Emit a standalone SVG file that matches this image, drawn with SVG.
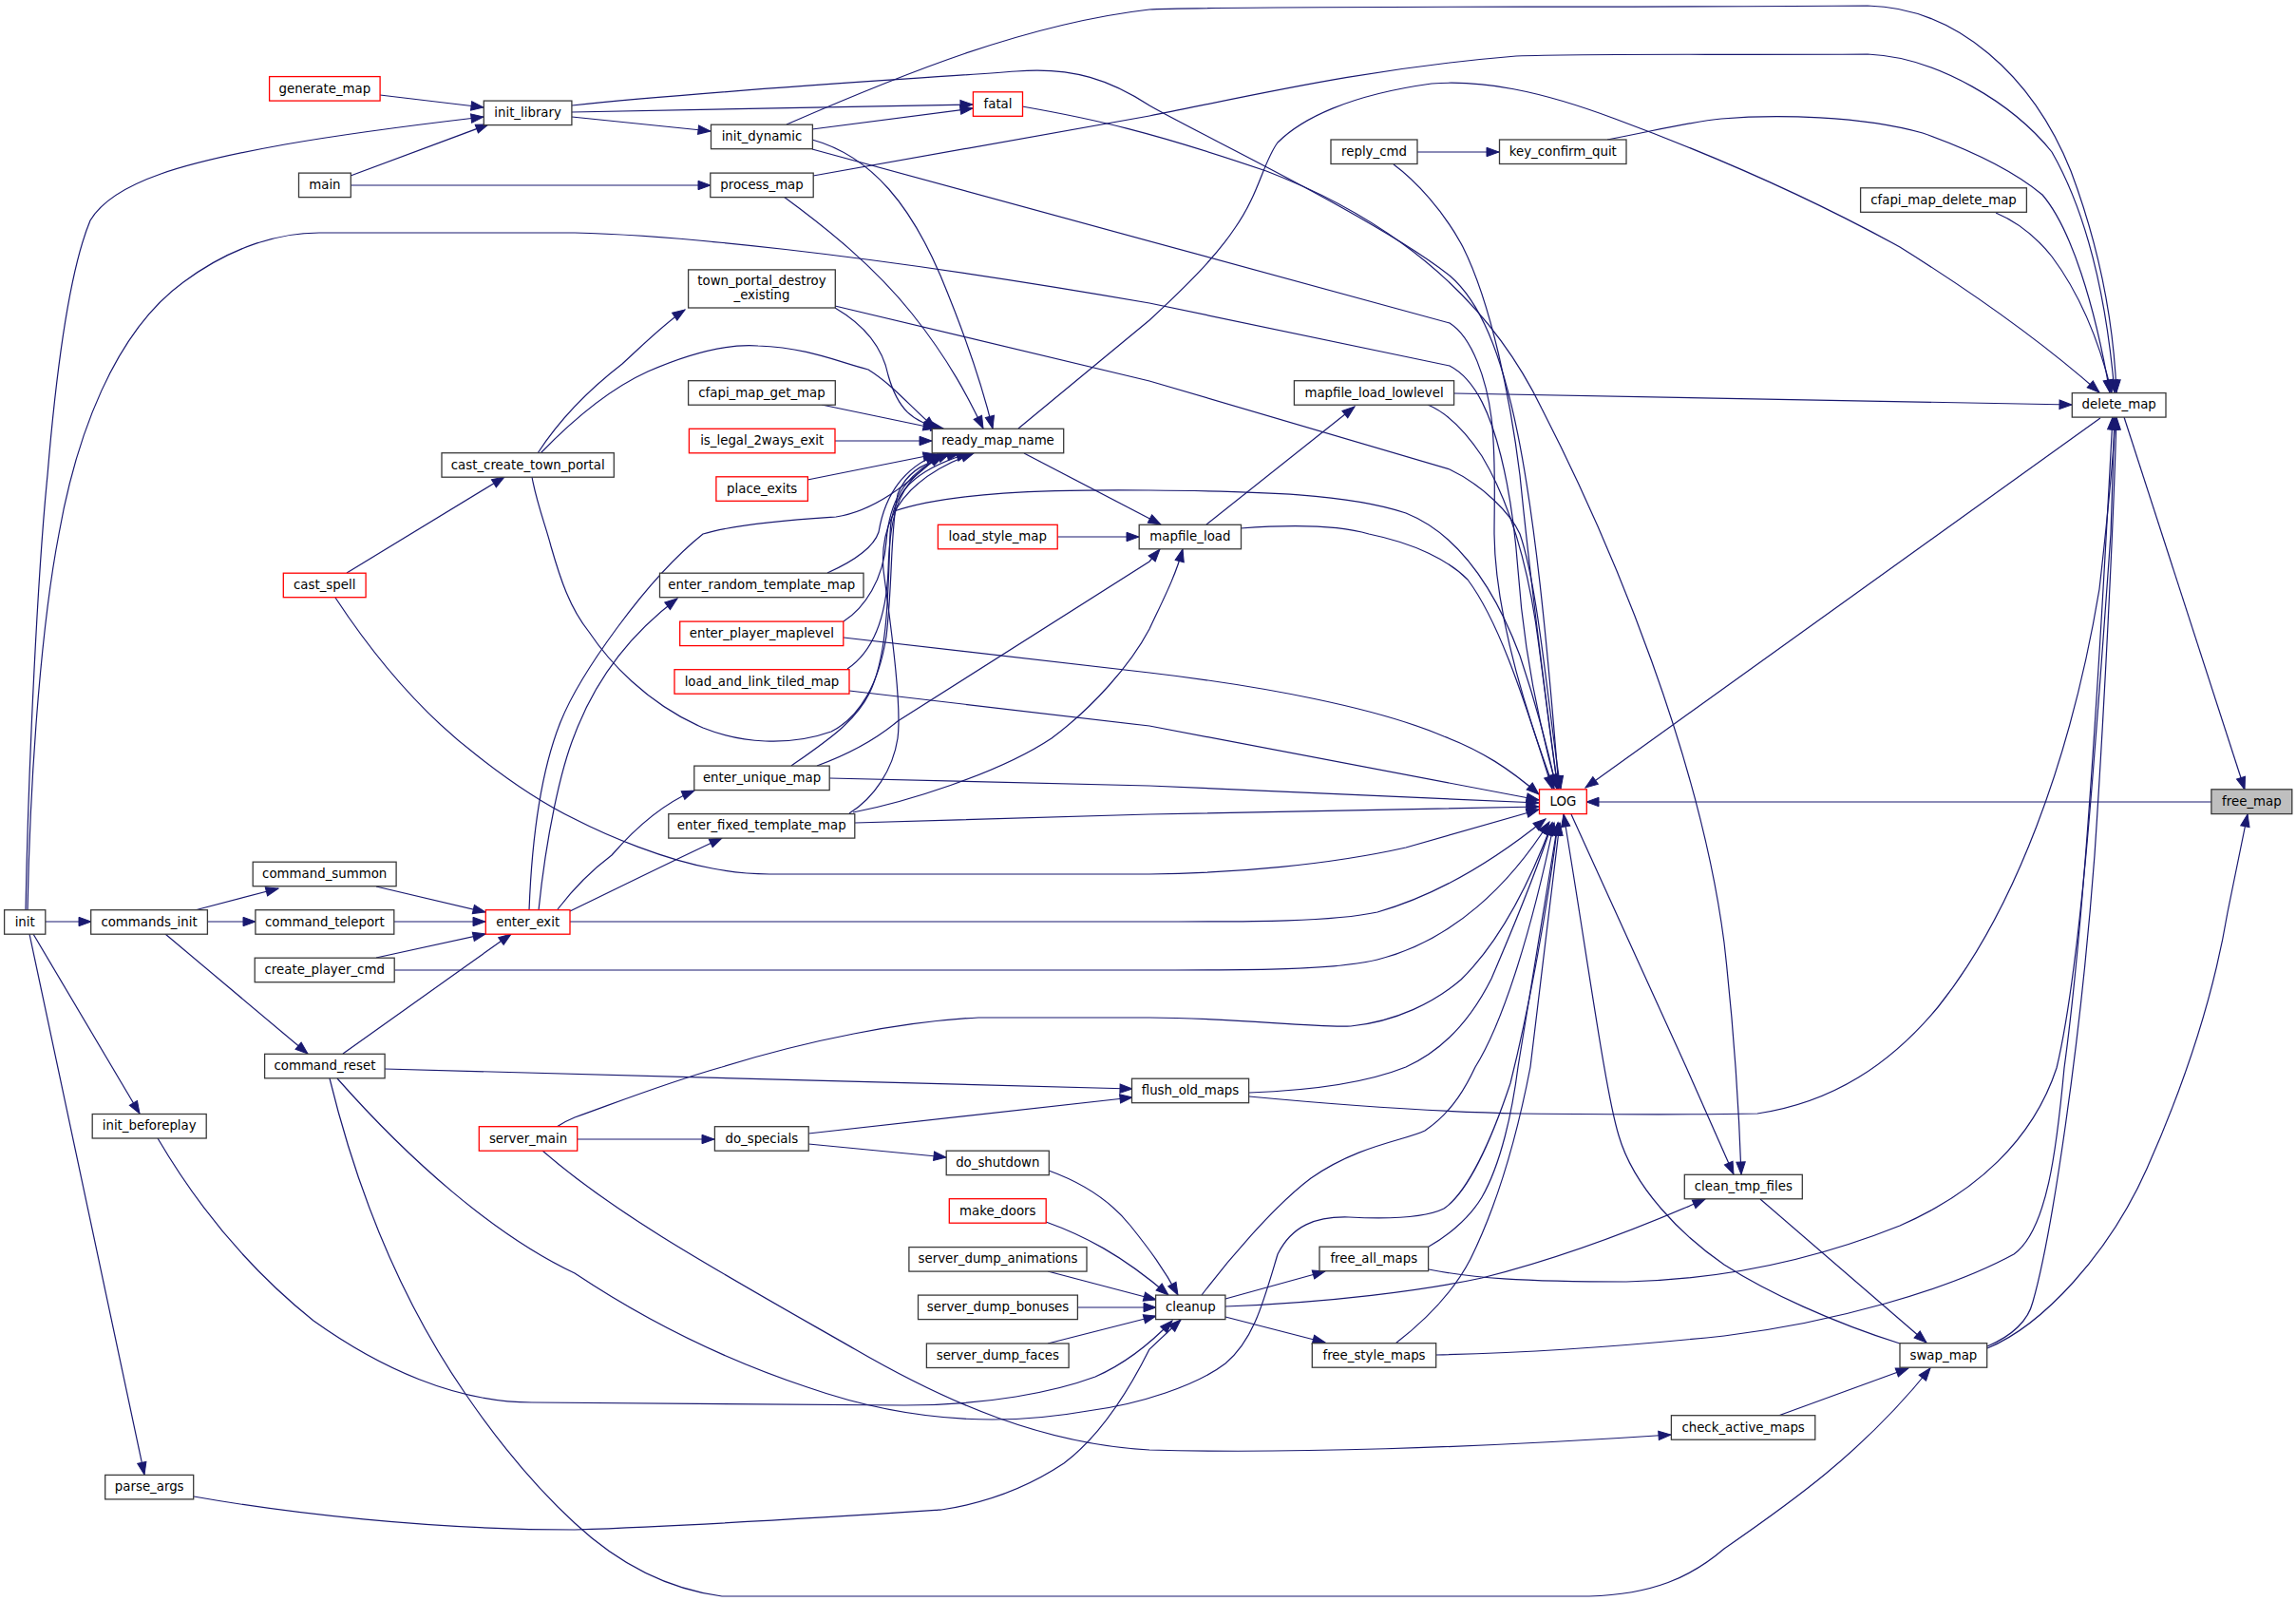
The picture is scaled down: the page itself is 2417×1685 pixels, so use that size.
<svg xmlns="http://www.w3.org/2000/svg" width="2417" height="1685" viewBox="0 0 2417 1685">
<style>
.e{fill:none;stroke:#191970;stroke-width:1.2;marker-end:url(#ah)}
.n rect{fill:#ffffff;stroke:#3a3a3a;stroke-width:1.3}
.n.r rect{stroke:#ff0000}
.n.g rect{fill:#bfbfbf;stroke:#3a3a3a}
.n text{font-family:"DejaVu Sans","Liberation Sans",sans-serif;font-size:13.33px;text-anchor:middle;fill:#000000}
</style>
<defs>
<marker id="ah" viewBox="0 -5 13 10" refX="13" refY="0" markerWidth="13" markerHeight="10" markerUnits="userSpaceOnUse" orient="auto" overflow="visible">
<path d="M0,-4.7 L13,0 L0,4.7 Z" fill="#191970" stroke="#191970" stroke-width="1"/>
</marker>
</defs>
<rect x="0" y="0" width="2417" height="1685" fill="#ffffff"/>
<g id="edges">
<path class="e" d="M400,100 L509,113"/>
<path class="e" d="M27,958 C30,800 40,600 50,500 C60,380 75,280 95,232 C120,190 200,170 300,152 C380,138 450,130 509,123"/>
<path class="e" d="M369,185 L514,131"/>
<path class="e" d="M369,195 L748,195"/>
<path class="e" d="M602,123 L748,138"/>
<path class="e" d="M602,118 L1024,110"/>
<path class="e" d="M855,136 L1024,114"/>
<path class="e" d="M602,111 C750,95 950,84 1070,75 C1130,70 1170,85 1210,111 C1260,140 1450,230 1526,290 C1590,345 1615,500 1641,830"/>
<path class="e" d="M1076,112 C1150,125 1210,138 1333,180 C1450,225 1560,300 1623,430 C1700,580 1790,800 1815,992 C1825,1080 1830,1150 1833,1236"/>
<path class="e" d="M828,131 C950,78 1080,25 1210,10 C1260,6 1700,8 1966,6 C2060,8 2140,80 2180,180 C2210,260 2225,340 2228,413"/>
<path class="e" d="M855,147 C920,165 960,220 990,290 C1015,350 1035,410 1045,451"/>
<path class="e" d="M855,157 L1526,340 C1550,355 1565,400 1570,440 C1575,480 1573,530 1573,562 C1574,650 1610,760 1636,830"/>
<path class="e" d="M29,958 C32,800 45,650 62,562 C80,460 120,350 193,297 C240,262 290,245 336,245 L605,245 C700,247 900,265 1210,319 L1526,385 C1555,400 1570,440 1580,480 C1590,520 1595,560 1598,600 C1605,700 1625,780 1639,830"/>
<path class="e" d="M879,324 C915,345 930,370 935,395 C945,430 960,445 993,451"/>
<path class="e" d="M879,322 L1210,401 L1526,494 C1560,510 1590,540 1600,562 C1620,620 1630,750 1643,830"/>
<path class="e" d="M566,477 C590,440 620,410 655,383 C680,360 700,340 721,326"/>
<path class="e" d="M569,477 C600,445 640,410 682,391 C730,370 770,362 798,364 C850,366 880,380 914,389 C940,405 960,430 985,451"/>
<path class="e" d="M560,502 C565,530 575,555 580,575 C590,610 600,640 620,665 C640,695 680,740 740,766 C780,782 830,786 875,770 C905,755 925,720 933,670 C940,610 937,560 945,520 C955,495 975,485 1010,477"/>
<path class="e" d="M865,426 L985,451"/>
<path class="e" d="M879,464 L981,464"/>
<path class="e" d="M850,505 L985,478"/>
<path class="e" d="M365,603 L531,502"/>
<path class="e" d="M353,629 C380,670 430,740 502,795 C540,825 570,845 605,862 C640,880 700,905 750,914 C770,918 790,920 810,920 L1210,920 C1300,919 1400,910 1480,892 L1620,852"/>
<path class="e" d="M557,958 C560,880 570,810 590,760 C610,710 680,610 740,562 C780,550 850,546 880,544 C920,538 955,510 990,478"/>
<path class="e" d="M941,538 C1000,518 1100,515 1210,516 C1330,517 1420,520 1480,540 C1530,560 1570,610 1600,690 C1620,750 1632,800 1638,828"/>
<path class="e" d="M567,958 C575,880 590,810 605,773 C625,720 660,670 713,630"/>
<path class="e" d="M587,957 C600,940 620,918 644,900 C670,870 700,845 731,832"/>
<path class="e" d="M600,959 C660,930 710,905 760,882"/>
<path class="e" d="M600,970 L1210,970 C1300,970 1400,971 1450,960 C1520,940 1580,900 1627,862"/>
<path class="e" d="M396,1008 L511,983"/>
<path class="e" d="M415,1021 L1210,1021 C1300,1021 1400,1022 1450,1010 C1530,990 1590,930 1631,865"/>
<path class="e" d="M396,933 L511,960"/>
<path class="e" d="M415,970 L511,970"/>
<path class="e" d="M361,1109 L538,983"/>
<path class="e" d="M48,970 L96,970"/>
<path class="e" d="M205,958 L293,935"/>
<path class="e" d="M218,970 L269,970"/>
<path class="e" d="M174,983 L324,1109"/>
<path class="e" d="M35,983 L147,1172"/>
<path class="e" d="M31,983 L152,1552"/>
<path class="e" d="M871,603 C900,590 920,575 925,560 C930,530 945,495 987,478"/>
<path class="e" d="M888,654 C910,640 930,610 933,570 C936,530 950,500 995,478"/>
<path class="e" d="M888,671 L1210,708 C1330,722 1450,745 1520,775 C1560,790 1590,810 1620,836"/>
<path class="e" d="M892,704 C920,685 933,650 935,600 C937,540 945,500 1000,477"/>
<path class="e" d="M894,727 L1210,764 L1620,842"/>
<path class="e" d="M833,806 C870,780 900,760 915,730 C935,690 935,620 937,562 C938,520 960,495 1020,477"/>
<path class="e" d="M860,806 C890,795 920,780 945,759 L1210,591 L1221,578"/>
<path class="e" d="M873,819 L1210,827 L1620,845"/>
<path class="e" d="M894,856 C920,840 940,810 945,777 C950,740 935,640 930,600 C925,540 960,500 1025,477"/>
<path class="e" d="M898,855 C950,845 1050,815 1107,777 C1150,745 1190,700 1210,662 C1225,630 1238,605 1245,578"/>
<path class="e" d="M900,866 L1210,857 L1620,849"/>
<path class="e" d="M1078,477 L1222,552"/>
<path class="e" d="M1072,451 L1210,337 C1250,300 1280,270 1300,240 C1325,205 1330,170 1345,150 C1370,125 1420,100 1507,88 C1560,84 1620,95 1700,125 C1800,162 1900,205 2000,260 C2080,310 2150,360 2210,413"/>
<path class="e" d="M825,207 C870,240 920,280 960,330 C1000,380 1020,420 1035,451"/>
<path class="e" d="M856,185 L1210,122 C1330,98 1440,72 1596,59 C1680,56 1800,58 1966,57 C2040,60 2120,110 2160,160 C2200,230 2218,320 2226,413"/>
<path class="e" d="M1113,565 L1199,565"/>
<path class="e" d="M1270,552 L1426,428"/>
<path class="e" d="M1306,556 C1360,552 1410,553 1441,562 C1490,572 1525,590 1545,610 C1575,650 1600,720 1634,830"/>
<path class="e" d="M1531,414 L2181,426"/>
<path class="e" d="M1503,426 C1520,433 1540,450 1560,480 C1590,530 1610,600 1620,680 C1628,740 1634,790 1640,830"/>
<path class="e" d="M1492,160 L1578,160"/>
<path class="e" d="M1467,173 C1490,190 1520,222 1540,260 C1570,320 1590,420 1600,500 C1610,600 1625,720 1640,830"/>
<path class="e" d="M1692,147 C1740,138 1780,128 1812,125 C1870,120 1960,122 2024,140 C2080,160 2120,180 2150,205 C2180,240 2205,320 2221,413"/>
<path class="e" d="M2101,224 C2120,232 2140,245 2160,270 C2190,310 2210,360 2223,413"/>
<path class="e" d="M2236,439 L2363,831"/>
<path class="e" d="M2211,440 L1669,829"/>
<path class="e" d="M2328,844 L1670,844"/>
<path class="e" d="M2092,1419 C2150,1395 2220,1320 2260,1230 C2300,1140 2330,1050 2345,960 L2366,857"/>
<path class="e" d="M2092,1417 C2120,1405 2135,1390 2140,1370 C2160,1300 2190,1100 2205,900 C2215,750 2225,550 2228,439"/>
<path class="e" d="M1504,1336 C1550,1345 1600,1349 1712,1349 C1800,1347 1900,1330 2000,1290 C2080,1255 2140,1200 2165,1124 C2190,1020 2205,800 2222,562 L2226,439"/>
<path class="e" d="M1512,1426 C1600,1424 1700,1418 1815,1406 C1930,1392 2050,1358 2120,1320 C2155,1295 2165,1210 2173,1124 C2190,1000 2205,800 2224,439"/>
<path class="e" d="M1315,1154 C1400,1162 1500,1170 1600,1172 C1700,1173 1800,1173 1850,1172 C1930,1160 1990,1120 2040,1060 C2120,960 2180,800 2210,620 C2218,550 2224,490 2227,439"/>
<path class="e" d="M1315,1150 C1400,1147 1450,1135 1480,1123 C1520,1105 1550,1070 1570,1030 C1600,960 1620,910 1634,866"/>
<path class="e" d="M1504,1312 C1520,1303 1545,1285 1560,1260 C1580,1225 1592,1170 1598,1123 L1640,866"/>
<path class="e" d="M1469,1414 C1500,1390 1530,1360 1548,1325 C1580,1260 1600,1180 1611,1123 L1642,866"/>
<path class="e" d="M1265,1363 C1290,1330 1340,1270 1380,1240 C1430,1205 1480,1200 1500,1190 C1530,1170 1545,1140 1553,1123 C1580,1080 1610,990 1636,866"/>
<path class="e" d="M355,1135 C430,1220 520,1300 605,1340 C680,1390 760,1430 850,1460 C950,1495 1050,1502 1145,1485 C1200,1478 1260,1458 1290,1435 C1320,1410 1330,1370 1345,1320 C1360,1290 1385,1280 1420,1281 C1460,1283 1500,1282 1520,1272 C1545,1255 1570,1200 1590,1140 C1610,1060 1630,950 1640,866"/>
<path class="e" d="M347,1135 C380,1270 430,1380 490,1467 C540,1540 580,1580 605,1603 C650,1645 700,1672 760,1680 L1673,1680 C1740,1678 1780,1660 1815,1630 C1880,1585 1960,1530 2032,1440"/>
<path class="e" d="M608,1199 L752,1199"/>
<path class="e" d="M586,1186 C595,1180 600,1178 605,1176 C650,1160 700,1140 760,1123 C850,1095 950,1075 1030,1071 L1210,1071 C1300,1071 1380,1082 1422,1080 C1470,1075 1510,1055 1538,1031 C1580,990 1610,930 1634,866"/>
<path class="e" d="M571,1211 C650,1280 760,1340 900,1420 C1000,1478 1100,1520 1210,1526 C1350,1530 1550,1524 1759,1510"/>
<path class="e" d="M851,1193 L1192,1155"/>
<path class="e" d="M851,1204 L996,1218"/>
<path class="e" d="M405,1125 L1192,1146"/>
<path class="e" d="M1104,1232 C1140,1245 1170,1265 1190,1290 C1210,1315 1225,1335 1240,1363"/>
<path class="e" d="M1101,1286 C1140,1300 1180,1320 1230,1363"/>
<path class="e" d="M1103,1338 L1217,1368"/>
<path class="e" d="M1134,1376 L1217,1376"/>
<path class="e" d="M1103,1414 L1217,1385"/>
<path class="e" d="M166,1198 C220,1290 280,1350 330,1390 C400,1440 480,1476 560,1476 L952,1479 C1040,1479 1110,1465 1153,1449 C1185,1435 1210,1415 1234,1390"/>
<path class="e" d="M204,1575 C300,1592 450,1610 605,1610 C750,1605 900,1595 991,1589 C1050,1580 1090,1560 1120,1540 C1160,1510 1190,1460 1210,1420 L1243,1389"/>
<path class="e" d="M1290,1367 L1395,1338"/>
<path class="e" d="M1290,1386 L1395,1413"/>
<path class="e" d="M1290,1375 C1400,1371 1500,1358 1560,1345 C1640,1325 1720,1295 1795,1262"/>
<path class="e" d="M1853,1262 L2028,1413"/>
<path class="e" d="M1654,857 L1775,1123 L1825,1236"/>
<path class="e" d="M2000,1414 C1930,1392 1860,1360 1815,1331 C1770,1300 1720,1250 1704,1195 C1690,1150 1670,1000 1646,857"/>
<path class="e" d="M1872,1490 L2009,1440"/>
</g>
<g id="generate_map" class="n r"><rect x="283.6" y="80.6" width="116.5" height="25.5"/><text x="341.9" y="97.6">generate_map</text></g>
<g id="init_library" class="n"><rect x="509.3" y="106.1" width="92.6" height="25.5"/><text x="555.6" y="122.9">init_library</text></g>
<g id="main" class="n"><rect x="314.5" y="182.1" width="54.8" height="25.5"/><text x="341.9" y="198.9">main</text></g>
<g id="init_dynamic" class="n"><rect x="748.5" y="131.2" width="106.9" height="25.5"/><text x="802" y="148">init_dynamic</text></g>
<g id="process_map" class="n"><rect x="747.8" y="182.1" width="108.4" height="25.5"/><text x="802" y="198.9">process_map</text></g>
<g id="fatal" class="n r"><rect x="1024.4" y="96.8" width="52.1" height="25.5"/><text x="1050.5" y="113.6">fatal</text></g>
<g id="town_portal_destroy_existing" class="n"><rect x="724.6" y="283.9" width="154.7" height="40.1"/><text x="802" y="299.5">town_portal_destroy</text><text x="802" y="314.5">_existing</text></g>
<g id="cfapi_map_get_map" class="n"><rect x="724.6" y="400.7" width="154.7" height="25.5"/><text x="802" y="417.5">cfapi_map_get_map</text></g>
<g id="is_legal_2ways_exit" class="n r"><rect x="725.4" y="451.3" width="153.6" height="25.5"/><text x="802.2" y="468">is_legal_2ways_exit</text></g>
<g id="place_exits" class="n r"><rect x="753.9" y="501.8" width="96.5" height="25.5"/><text x="802.2" y="518.6">place_exits</text></g>
<g id="ready_map_name" class="n"><rect x="981.2" y="451.3" width="138.5" height="25.5"/><text x="1050.5" y="468">ready_map_name</text></g>
<g id="cast_create_town_portal" class="n"><rect x="465" y="476.7" width="181.3" height="25.5"/><text x="555.7" y="493.5">cast_create_town_portal</text></g>
<g id="load_style_map" class="n r"><rect x="987.4" y="552.3" width="125.8" height="25.5"/><text x="1050.3" y="569">load_style_map</text></g>
<g id="mapfile_load" class="n"><rect x="1199.2" y="552.3" width="107.3" height="25.5"/><text x="1252.9" y="569">mapfile_load</text></g>
<g id="mapfile_load_lowlevel" class="n"><rect x="1362.4" y="400.7" width="168.2" height="25.5"/><text x="1446.5" y="417.5">mapfile_load_lowlevel</text></g>
<g id="reply_cmd" class="n"><rect x="1401" y="147" width="91" height="25.5"/><text x="1446.5" y="163.8">reply_cmd</text></g>
<g id="key_confirm_quit" class="n"><rect x="1578.5" y="147" width="133.5" height="25.5"/><text x="1645.3" y="163.8">key_confirm_quit</text></g>
<g id="cfapi_map_delete_map" class="n"><rect x="1958.6" y="197.8" width="174.8" height="25.5"/><text x="2046" y="214.6">cfapi_map_delete_map</text></g>
<g id="delete_map" class="n"><rect x="2181.3" y="413.6" width="98.7" height="25.5"/><text x="2230.7" y="430.4">delete_map</text></g>
<g id="cast_spell" class="n r"><rect x="298.3" y="603.2" width="86.8" height="25.5"/><text x="341.7" y="620">cast_spell</text></g>
<g id="enter_random_template_map" class="n"><rect x="694.5" y="603.2" width="214.5" height="25.5"/><text x="801.8" y="620">enter_random_template_map</text></g>
<g id="enter_player_maplevel" class="n r"><rect x="715.7" y="654.1" width="172.1" height="25.5"/><text x="801.8" y="670.9">enter_player_maplevel</text></g>
<g id="load_and_link_tiled_map" class="n r"><rect x="710" y="704.7" width="184" height="25.5"/><text x="802" y="721.5">load_and_link_tiled_map</text></g>
<g id="enter_unique_map" class="n"><rect x="730.8" y="806.1" width="142.4" height="25.5"/><text x="802" y="822.9">enter_unique_map</text></g>
<g id="enter_fixed_template_map" class="n"><rect x="703.8" y="856.6" width="196" height="25.5"/><text x="801.8" y="873.4">enter_fixed_template_map</text></g>
<g id="LOG" class="n r"><rect x="1620.5" y="830.8" width="49.8" height="25.8"/><text x="1645.4" y="847.8">LOG</text></g>
<g id="free_map" class="n g"><rect x="2327.9" y="830.8" width="84.9" height="25.8"/><text x="2370.4" y="847.8">free_map</text></g>
<g id="command_summon" class="n"><rect x="266.2" y="907.2" width="150.9" height="25.5"/><text x="341.7" y="924">command_summon</text></g>
<g id="init" class="n"><rect x="4.6" y="957.7" width="43.2" height="25.5"/><text x="26.2" y="974.5">init</text></g>
<g id="commands_init" class="n"><rect x="95.7" y="957.7" width="122.7" height="25.5"/><text x="157" y="974.5">commands_init</text></g>
<g id="command_teleport" class="n"><rect x="268.9" y="957.7" width="145.9" height="25.5"/><text x="341.9" y="974.5">command_teleport</text></g>
<g id="enter_exit" class="n r"><rect x="511.3" y="957.7" width="88.7" height="25.5"/><text x="555.7" y="974.5">enter_exit</text></g>
<g id="create_player_cmd" class="n"><rect x="268.2" y="1008.2" width="147" height="25.5"/><text x="341.7" y="1025">create_player_cmd</text></g>
<g id="command_reset" class="n"><rect x="278.6" y="1109.3" width="126.5" height="25.5"/><text x="341.9" y="1126.1">command_reset</text></g>
<g id="flush_old_maps" class="n"><rect x="1191.5" y="1135.2" width="123.1" height="25.5"/><text x="1253" y="1152">flush_old_maps</text></g>
<g id="init_beforeplay" class="n"><rect x="97.2" y="1172.5" width="120" height="25.5"/><text x="157.2" y="1189.3">init_beforeplay</text></g>
<g id="server_main" class="n r"><rect x="504.3" y="1185.7" width="103.4" height="25.5"/><text x="556" y="1202.5">server_main</text></g>
<g id="do_specials" class="n"><rect x="752.4" y="1185.7" width="98.8" height="25.5"/><text x="801.8" y="1202.5">do_specials</text></g>
<g id="do_shutdown" class="n"><rect x="996.2" y="1211.2" width="108.1" height="25.5"/><text x="1050.3" y="1228">do_shutdown</text></g>
<g id="clean_tmp_files" class="n"><rect x="1773.3" y="1236.3" width="124" height="25.5"/><text x="1835.3" y="1253.1">clean_tmp_files</text></g>
<g id="make_doors" class="n r"><rect x="999.3" y="1261.7" width="101.9" height="25.5"/><text x="1050.3" y="1278.5">make_doors</text></g>
<g id="server_dump_animations" class="n"><rect x="956.9" y="1312.6" width="187.1" height="25.5"/><text x="1050.5" y="1329.4">server_dump_animations</text></g>
<g id="free_all_maps" class="n"><rect x="1389" y="1312.2" width="114.6" height="25.5"/><text x="1446.3" y="1329">free_all_maps</text></g>
<g id="server_dump_bonuses" class="n"><rect x="966.5" y="1363.1" width="167.9" height="25.5"/><text x="1050.5" y="1379.9">server_dump_bonuses</text></g>
<g id="cleanup" class="n"><rect x="1216.6" y="1363.1" width="73.3" height="25.5"/><text x="1253.3" y="1379.9">cleanup</text></g>
<g id="server_dump_faces" class="n"><rect x="975.4" y="1414" width="149.7" height="25.5"/><text x="1050.3" y="1430.8">server_dump_faces</text></g>
<g id="free_style_maps" class="n"><rect x="1381.3" y="1413.7" width="130.4" height="25.5"/><text x="1446.5" y="1430.5">free_style_maps</text></g>
<g id="swap_map" class="n"><rect x="2000" y="1413.7" width="91.7" height="25.5"/><text x="2045.9" y="1430.5">swap_map</text></g>
<g id="check_active_maps" class="n"><rect x="1759.4" y="1489.7" width="151.4" height="25.5"/><text x="1835.1" y="1506.5">check_active_maps</text></g>
<g id="parse_args" class="n"><rect x="110.7" y="1552.4" width="93" height="25.5"/><text x="157.2" y="1569.2">parse_args</text></g>
</svg>
